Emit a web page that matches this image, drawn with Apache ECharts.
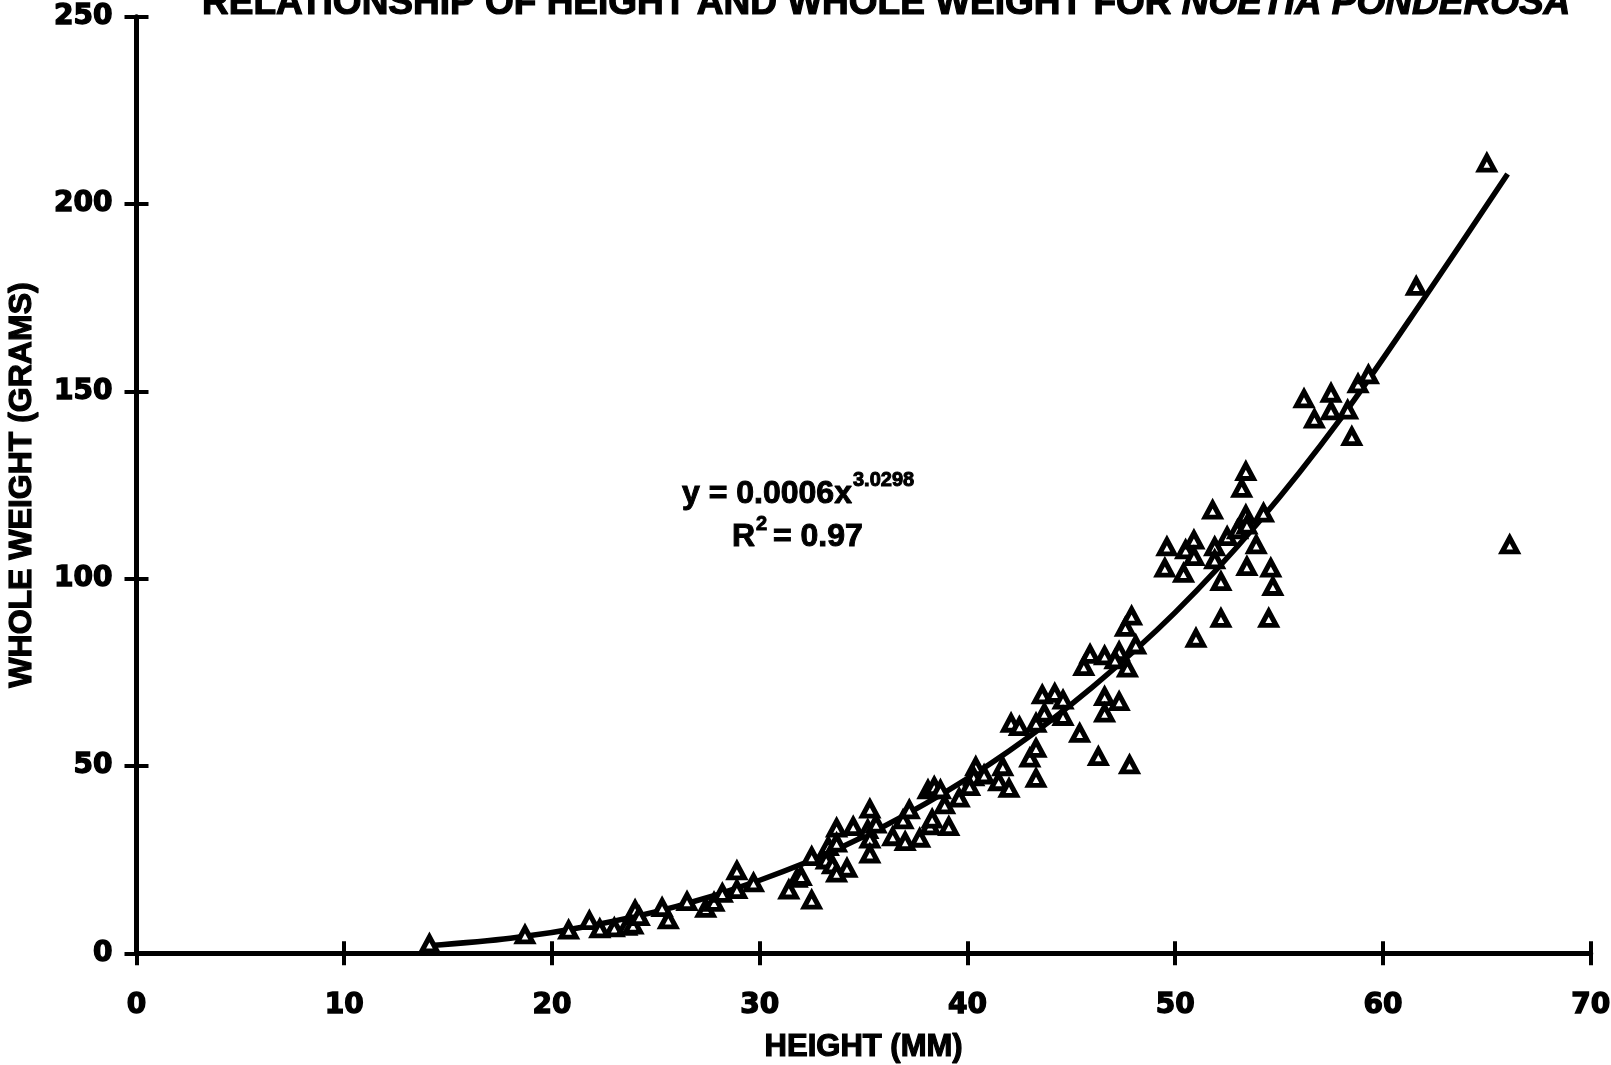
<!DOCTYPE html>
<html>
<head>
<meta charset="utf-8">
<script src="https://cdn.jsdelivr.net/npm/echarts@6/dist/echarts.min.js"></script>
<style>
html,body{margin:0;padding:0;background:#fff;}
#chart{width:1611px;height:1065px;}
</style>
</head>
<body>
<div id="chart"></div>
<script>
// ---- data ----
var heights = [14.1, 18.7, 20.8, 21.8, 22.3, 23.0, 23.6, 23.9, 24.0, 24.2,
  25.3, 25.6, 26.5, 27.4, 27.8, 28.2, 28.9, 28.9, 29.7, 31.4,
  31.8, 32.0, 32.5, 32.5, 33.2, 33.3, 33.7, 33.7, 33.5, 34.2,
  33.7, 34.5, 35.3, 35.2, 35.3, 35.3, 35.6, 36.4, 36.9, 37.0,
  37.2, 37.7, 38.2, 38.3, 38.1, 38.4, 38.7, 39.1, 38.9, 39.6,
  40.4, 40.3, 40.8, 40.1, 41.7, 41.5, 42.0, 43.3, 43.0, 43.3,
  42.1, 42.5, 43.3, 43.7, 43.6, 44.2, 44.6, 44.6, 45.4, 46.3,
  46.6, 46.6, 47.3, 47.8, 45.6, 45.9, 46.6, 47.3, 47.1, 47.7,
  47.6, 47.9, 48.1, 51.0, 52.2, 54.5, 52.2, 53.45, 54.6, 54.7,
  49.5, 50.4, 49.6, 50.5, 50.9, 50.9, 51.8, 51.9, 51.9, 52.5,
  53.0, 53.4, 53.45, 54.25, 53.9, 53.2, 53.4, 56.2, 56.7, 57.5,
  57.5, 58.3, 58.5, 58.8, 59.3, 61.6, 65.0, 66.1];
var weights = [2.5, 4.9, 6.2, 8.7, 6.5, 6.8, 7.2, 7.5, 11.6, 9.8,
  12.2, 8.9, 13.8, 12.0, 13.6, 16.0, 22.0, 17.0, 18.8, 16.9,
  20.0, 20.5, 14.2, 25.8, 24.9, 28.5, 33.4, 29.4, 23.6, 22.7,
  21.4, 33.8, 38.5, 33.0, 30.5, 26.5, 34.5, 31.1, 35.6, 29.8,
  38.3, 30.7, 34.0, 35.8, 43.6, 44.5, 43.6, 33.8, 39.6, 41.4,
  49.8, 47.1, 47.6, 44.5, 49.8, 45.8, 44.0, 46.7, 52.1, 54.7,
  61.4, 60.5, 61.4, 64.1, 69.0, 69.4, 67.6, 63.2, 58.7, 52.5,
  68.5, 64.1, 67.2, 50.3, 76.5, 79.8, 79.4, 80.5, 78.3, 76.1,
  87.0, 90.0, 82.3, 84.1, 89.4, 89.4, 99.2, 103.2, 102.8, 97.9,
  102.8, 101.4, 108.5, 107.7, 110.3, 105.9, 118.3, 108.5, 105.0, 111.2,
  113.0, 117.0, 114.3, 117.5, 109.0, 124.1, 128.6, 148.0, 142.6, 149.5,
  144.8, 145.0, 137.9, 152.0, 154.4, 178.0, 210.9, 109.0];

// trend curve
var trendX = [14, 18, 22, 26, 30, 34, 38, 42, 46, 50, 54, 58, 62, 66];
var trendY = [2, 4, 7.5, 12.5, 19.5, 28.5, 40, 54, 71, 91, 115, 143, 175, 208];

var xTicks = {min: 0, max: 70, interval: 10};
var yTicks = {min: 0, max: 250, interval: 50};

var titleMain = 'RELATIONSHIP OF HEIGHT AND WHOLE WEIGHT FOR ';
var titleItalic = 'NOETIA PONDEROSA';
var xName = 'HEIGHT (MM)';
var yName = 'WHOLE WEIGHT (GRAMS)';
var eqMain = 'y = 0.0006x';
var eqExp = '3.0298';
var r2Main = 'R';
var r2Exp = '2';
var r2Rest = ' = 0.97';

// ---- build ----
var points = heights.map(function (h, i) { return [h, weights[i]]; });
var trend = trendX.map(function (x, i) { return [x, trendY[i]]; });

var SANS = '"Liberation Sans", Arial, sans-serif';
var TICKF = '"DejaVu Sans", sans-serif';

function makeX(primary) {
  return {
    type: 'value', min: xTicks.min, max: xTicks.max, interval: xTicks.interval,
    position: 'bottom',
    name: primary ? xName : '',
    nameLocation: 'middle', nameGap: 79,
    nameTextStyle: {fontFamily: SANS, fontWeight: 'bold', fontSize: 31, color: '#000', textBorderColor: '#000', textBorderWidth: 1.2},
    axisLine: {show: primary, onZero: false, lineStyle: {color: '#000', width: 5}},
    axisTick: {show: true, inside: !primary, length: 12, lineStyle: {color: '#000', width: 4}},
    axisLabel: {show: primary, margin: 38, fontFamily: TICKF, fontWeight: 'bold', fontSize: 28, color: '#000', textBorderColor: '#000', textBorderWidth: 1.4},
    splitLine: {show: false}
  };
}
function makeY(primary) {
  return {
    type: 'value', min: yTicks.min, max: yTicks.max, interval: yTicks.interval,
    position: 'left',
    name: primary ? yName : '',
    nameLocation: 'middle', nameGap: 98,
    nameTextStyle: {fontFamily: SANS, fontWeight: 'bold', fontSize: 32, color: '#000', textBorderColor: '#000', textBorderWidth: 1.2},
    axisLine: {show: primary, onZero: false, lineStyle: {color: '#000', width: 5}},
    axisTick: {show: true, inside: !primary, length: 12, lineStyle: {color: '#000', width: 4}},
    axisLabel: {show: primary, margin: 24, fontFamily: TICKF, fontWeight: 'bold', fontSize: 28, color: '#000', textBorderColor: '#000', textBorderWidth: 1.4},
    splitLine: {show: false}
  };
}

function txt(x, y, s, size) {
  return {type: 'text', x: x, y: y, silent: true,
    style: {text: s, font: 'bold ' + size + 'px ' + SANS, fill: '#000',
      stroke: '#000', lineWidth: 1, textAlign: 'left', textVerticalAlign: 'middle'}};
}

var chart = echarts.init(document.getElementById('chart'), null, {renderer: 'canvas'});
chart.setOption({
  backgroundColor: '#fff',
  animation: false,
  title: {
    text: '{a|' + titleMain + '}{b|' + titleItalic + '}',
    left: 202, top: -15, padding: 0,
    textStyle: {
      rich: {
        a: {fontFamily: SANS, fontWeight: 'bold', fontSize: 37, color: '#000', textBorderColor: '#000', textBorderWidth: 1.2},
        b: {fontFamily: SANS, fontWeight: 'bold', fontStyle: 'italic', fontSize: 37, color: '#000', textBorderColor: '#000', textBorderWidth: 1.2}
      }
    }
  },
  grid: {left: 136.5, right: 20.3, top: 16.7, bottom: 111.7, containLabel: false, outerBoundsMode: 'none'},
  xAxis: [makeX(true), makeX(false)],
  yAxis: [makeY(true), makeY(false)],
  graphic: [
    txt(682, 494, eqMain, 32),
    txt(853, 480, eqExp, 20),
    txt(732, 537, r2Main, 32),
    txt(756, 524, r2Exp, 20),
    txt(764, 537, r2Rest, 32)
  ],
  series: [
    {
      type: 'line', xAxisIndex: 0, yAxisIndex: 0,
      data: trend, smooth: 0.3, showSymbol: false,
      lineStyle: {color: '#000', width: 5.5}, z: 2, silent: true
    },
    {
      type: 'scatter', xAxisIndex: 0, yAxisIndex: 0,
      data: points, symbol: 'triangle', symbolSize: [15, 14],
      itemStyle: {color: '#fff', borderColor: '#000', borderWidth: 5, opacity: 1},
      z: 3, silent: true
    }
  ]
});
</script>
</body>
</html>
